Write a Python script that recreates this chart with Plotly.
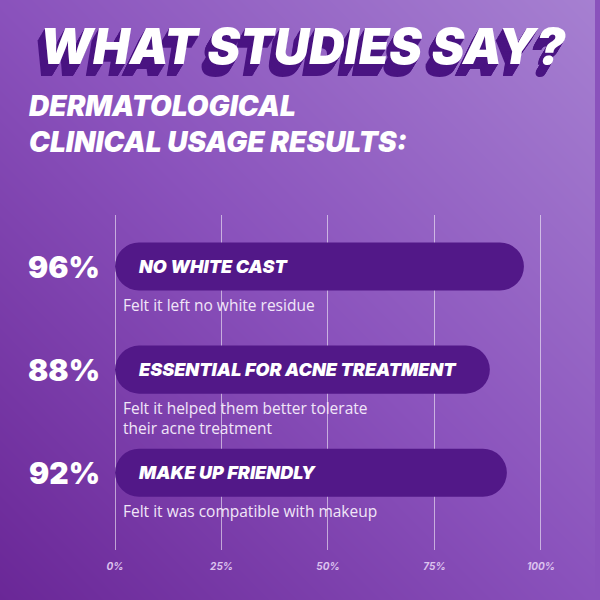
import plotly.graph_objects as go

# ---- data ----
categories = ["NO WHITE CAST", "ESSENTIAL FOR ACNE TREATMENT", "MAKE UP FRIENDLY"]
values = [96, 88, 92]
descriptions = [
    "Felt it left no white residue",
    "Felt it helped them better tolerate<br>their acne treatment",
    "Felt it was compatible with makeup",
]
tick_vals = [0, 25, 50, 75, 100]
tick_text = ["0%", "25%", "50%", "75%", "100%"]
title_text = "WHAT STUDIES SAY?"
subtitle_text = "DERMATOLOGICAL<br>CLINICAL USAGE RESULTS:"

# ---- style ----
W = H = 600
BAR_COLOR = "#521888"
SHADOW = "#4a1482"
HEAVY = "Inter"

fig = go.Figure()

# background gradient (styling only)
fig.add_trace(go.Heatmap(
    x=[0, 1], y=[0, 1], z=[[0, 1], [1, 2]], zsmooth="best",
    colorscale=[[0, "#6a2797"], [0.5, "#8a52bc"], [1, "#a680d1"]],
    showscale=False, hoverinfo="skip", xaxis="x", yaxis="y",
))

bar_w = 0.466
fig.add_trace(go.Bar(
    y=categories, x=values, base=[0] * len(values),
    orientation="h", width=bar_w, marker=dict(color=BAR_COLOR, cornerradius=24, line=dict(width=0)),
    xaxis="x2", yaxis="y2", hoverinfo="skip",
))

extrude = ", ".join(f"{-k * 0.6:.1f}px {k}px 0px {SHADOW}" for k in range(1, 13))

ann = []
ann.append(dict(text=title_text, xref="paper", yref="paper", x=38 / W, y=1 - 46 / H,
                xanchor="left", yanchor="middle", showarrow=False,
                font=dict(family=HEAVY, size=49, color="white", weight=900, style="italic",
                          shadow=extrude)))
ann.append(dict(text=subtitle_text, xref="paper", yref="paper", x=27 / W, y=1 - 124 / H,
                xanchor="left", yanchor="middle", showarrow=False, align="left",
                font=dict(family=HEAVY, size=28, color="white", weight=900, style="italic")))

for c, v, d in zip(categories, values, descriptions):
    ann.append(dict(text=f"{v}%", xref="paper", yref="y2", x=103 / W, y=c,
                    xanchor="right", yanchor="middle", showarrow=False,
                    font=dict(family=HEAVY, size=30, color="white", weight=900)))
    ann.append(dict(text=c, xref="paper", yref="y2", x=138 / W, y=c,
                    xanchor="left", yanchor="middle", showarrow=False,
                    font=dict(family=HEAVY, size=18, color="white", weight=900, style="italic")))
    ann.append(dict(text=d, xref="paper", yref="y2", x=122 / W, y=c,
                    xanchor="left", yanchor="top", showarrow=False, yshift=-25, align="left",
                    font=dict(family="Open Sans", size=15.5, color="#f1e6f8", weight=500)))

px_per = (545.5 - 116) / 100
x_left = 116 - 2 * px_per
x_right = x_left + 104 * px_per

fig.update_layout(
    width=W, height=H,
    margin=dict(l=0, r=0, t=0, b=0),
    paper_bgcolor="#8a52bc", plot_bgcolor="rgba(0,0,0,0)",
    showlegend=False, barmode="overlay",
    xaxis=dict(domain=[0, 1], range=[0, 1], visible=False, fixedrange=True),
    yaxis=dict(domain=[0, 1], range=[0, 1], visible=False, fixedrange=True),
    xaxis2=dict(domain=[x_left / W, x_right / W], range=[-2, 102], anchor="y2",
                tickvals=tick_vals, ticktext=tick_text, showgrid=True,
                gridcolor="rgba(255,255,255,0.55)", gridwidth=1, zeroline=False,
                showline=False, ticks="", ticklabelstandoff=9,
                tickfont=dict(family=HEAVY, size=10, color="#dcc2ee", weight=700, style="italic")),
    yaxis2=dict(domain=[1 - 550 / H, 1 - 215 / H], anchor="x2", type="category",
                categoryorder="array", categoryarray=categories, range=[2.75, -0.5],
                visible=False, showgrid=False),
    annotations=ann,
)

fig.write_html("out.html", config={"displayModeBar": False},
               post_script="document.body.style.margin='0';document.body.style.overflow='hidden';")
